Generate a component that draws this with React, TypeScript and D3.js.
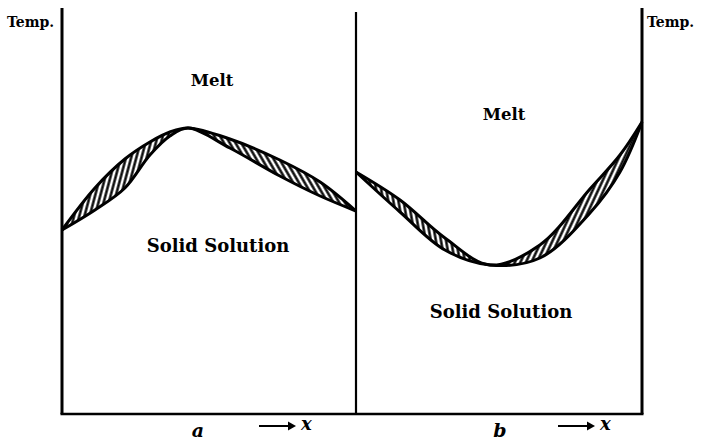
import React from "react";
import * as d3 from "d3";

// compositions (0..1) and temperatures (arbitrary units)
const compA = [0, 0.112, 0.214, 0.299, 0.367, 0.429, 0.571, 0.741, 0.878, 1];
const liquidusA = [46, 56.5, 63.75, 68, 70.5, 71.5, 68.75, 63.5, 58, 50.75];
const solidusA = [46, 51, 56.5, 64.75, 69.5, 71.5, 66.5, 59.5, 54.5, 50.75];
const touchA = 5; // maximum where both curves meet

const compB = [0, 0.154, 0.311, 0.469, 0.643, 0.818, 0.923, 1];
const liquidusB = [60.5, 53.5, 44, 37.25, 42.25, 56.25, 64.75, 73];
const solidusB = [60.5, 50.5, 41, 37.25, 39, 50.25, 60.5, 73];
const touchB = 3; // minimum

const panelLabels = ["a", "b"];
const axisTitle = "Temp.";

const W = 701;
const H = 443;
const left = 62;
const mid = 356;
const right = 642;
const bottom = 414;
const top = 8;

type Pt = { c: number; up: number; lo: number };

const y = d3.scaleLinear().domain([0, 100]).range([bottom, 14]);

const serif = "'DejaVu Serif', 'Liberation Serif', serif";
const curve = d3.curveCatmullRom.alpha(0.5);

function Panel({
  id,
  comp,
  liq,
  sol,
  touch,
  x0,
  x1,
  patterns,
}: {
  id: string;
  comp: number[];
  liq: number[];
  sol: number[];
  touch: number;
  x0: number;
  x1: number;
  patterns: string[];
}) {
  const x = d3.scaleLinear().domain([0, 1]).range([x0, x1]);
  const pts: Pt[] = comp.map((c, i) => ({ c, up: liq[i], lo: sol[i] }));
  const split = x(comp[touch]);
  const area = d3
    .area<Pt>()
    .x((d) => x(d.c))
    .y0((d) => y(d.lo))
    .y1((d) => y(d.up))
    .curve(curve);
  const upper = d3
    .line<Pt>()
    .x((d) => x(d.c))
    .y((d) => y(d.up))
    .curve(curve);
  const lower = d3
    .line<Pt>()
    .x((d) => x(d.c))
    .y((d) => y(d.lo))
    .curve(curve);
  const d = area(pts) || "";
  return (
    <g>
      <clipPath id={id + "L"}>
        <rect x={x0} y={0} width={split - x0} height={H} />
      </clipPath>
      <clipPath id={id + "R"}>
        <rect x={split} y={0} width={x1 - split} height={H} />
      </clipPath>
      <path d={d} fill={`url(#${patterns[0]})`} clipPath={`url(#${id}L)`} />
      <path d={d} fill={`url(#${patterns[1]})`} clipPath={`url(#${id}R)`} />
      <path d={upper(pts) || ""} fill="none" stroke="#000" strokeWidth={3} strokeLinejoin="round" />
      <path d={lower(pts) || ""} fill="none" stroke="#000" strokeWidth={3} strokeLinejoin="round" />
    </g>
  );
}

function Hatch({ id, angle }: { id: string; angle: number }) {
  return (
    <pattern
      id={id}
      patternUnits="userSpaceOnUse"
      width={5}
      height={10}
      patternTransform={`rotate(${angle})`}
    >
      <line x1={2.5} y1={0} x2={2.5} y2={10} stroke="#000" strokeWidth={2.4} />
    </pattern>
  );
}

export default function App() {
  return (
    <div style={{ position: "absolute", left: 0, top: 0 }}>
      <svg width={W} height={H} style={{ display: "block", background: "#fff" }}>
        <defs>
          <Hatch id="hA1" angle={15} />
          <Hatch id="hA2" angle={-30} />
          <Hatch id="hB1" angle={-10} />
          <Hatch id="hB2" angle={25} />
        </defs>

        <Panel id="pa" comp={compA} liq={liquidusA} sol={solidusA} touch={touchA} x0={left} x1={mid} patterns={["hA1", "hA2"]} />
        <Panel id="pb" comp={compB} liq={liquidusB} sol={solidusB} touch={touchB} x0={mid} x1={right} patterns={["hB1", "hB2"]} />

        {/* frame */}
        <line x1={left} y1={top} x2={left} y2={bottom} stroke="#000" strokeWidth={3} />
        <line x1={mid} y1={12} x2={mid} y2={bottom} stroke="#000" strokeWidth={2.2} />
        <line x1={right} y1={top} x2={right} y2={bottom} stroke="#000" strokeWidth={3} />
        <line x1={left - 1.5} y1={bottom} x2={right + 1.5} y2={bottom} stroke="#000" strokeWidth={2.6} />

        <g fontFamily={serif} fontWeight="bold" fill="#000">
          <text x={7} y={27} fontSize={14}>{axisTitle}</text>
          <text x={647} y={27} fontSize={14}>{axisTitle}</text>
          <text x={212} y={86} fontSize={16.5} textAnchor="middle">Melt</text>
          <text x={218} y={252} fontSize={18} textAnchor="middle">Solid Solution</text>
          <text x={504} y={120} fontSize={16.5} textAnchor="middle">Melt</text>
          <text x={501} y={318} fontSize={18} textAnchor="middle">Solid Solution</text>
          <text x={198} y={437} fontSize={19} fontStyle="italic" textAnchor="middle">{panelLabels[0]}</text>
          <text x={500} y={437} fontSize={19} fontStyle="italic" textAnchor="middle">{panelLabels[1]}</text>
          <text x={301} y={430} fontSize={18} fontStyle="italic">x</text>
          <text x={600} y={430} fontSize={18} fontStyle="italic">x</text>
        </g>

        {/* arrows */}
        {[[259, 296], [558, 595]].map(([a, b], i) => (
          <g key={i}>
            <line x1={a} y1={426} x2={b - 4} y2={426} stroke="#000" strokeWidth={1.8} />
            <path d={`M${b - 8},${421.5} L${b},426 L${b - 8},${430.5} Z`} fill="#000" />
          </g>
        ))}
      </svg>
    </div>
  );
}
